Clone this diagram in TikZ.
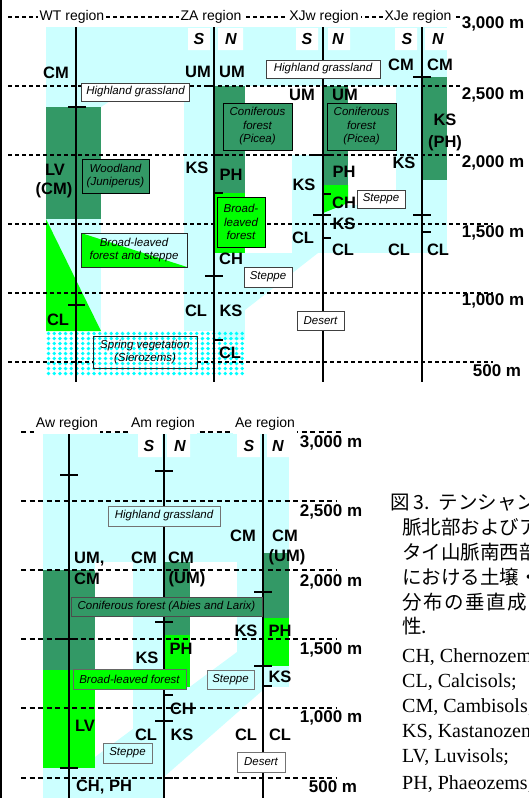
\documentclass[tikz,border=0pt]{standalone}
\usepackage{fontspec}
\setmainfont{Liberation Sans}
\newfontfamily\jpfont{Noto Sans CJK JP}
\newfontfamily\serfont{Liberation Serif}
\definecolor{cy}{HTML}{CCFFFF}
\definecolor{dg}{HTML}{339966}
\definecolor{bg}{HTML}{00FF00}
\definecolor{dt}{HTML}{00FFFF}
\begin{document}
\begin{tikzpicture}[x=1pt,y=-1pt,
  lbl/.style={font=\fontsize{16.5}{17}\selectfont\bfseries, inner sep=0pt},
  snl/.style={font=\fontsize{16}{17}\selectfont\bfseries\itshape, inner sep=0pt},
  hdr/.style={font=\fontsize{14}{15}\selectfont, fill=white, inner xsep=2pt, inner ysep=2pt},
  elev/.style={font=\fontsize{17}{18}\selectfont\bfseries, inner sep=0pt},
  vbox/.style={draw=black!75, line width=0.8pt, font=\fontsize{11.5}{13.5}\selectfont\itshape, align=center, inner sep=0pt},
  axln/.style={line width=2pt},
  tk/.style={line width=2pt},
  dsh/.style={line width=1.1pt, dash pattern=on 4pt off 3pt},
  dshb/.style={line width=1.5pt, dash pattern=on 5pt off 3.5pt},
  jpl/.style={font=\jpfont\fontsize{19.5}{20}\selectfont, inner sep=0pt, anchor=west},
  enl/.style={font=\serfont\fontsize{20}{21}\selectfont, inner sep=0pt, anchor=west}]
\useasboundingbox (0,0) rectangle (529,798);
\clip (0,0) rectangle (529,798);
\fill[white] (0,0) rectangle (529,798);
% ---------- top panel fills ----------
\fill[cy] (46,27) rectangle (447,86);
\fill[cy] (46,86) -- (133,86) -- (101,107) -- (46,107) -- cycle;
\fill[cy] (46,219) rectangle (101,331);
\fill[cy] (184,86) rectangle (214,331);
\fill[cy] (214,253) rectangle (245,340);
\fill[cy] (245,253) -- (318,253) -- (245,310) -- cycle;
\fill[cy] (292,155) rectangle (323,253);
\fill[cy] (323,205) rectangle (447,253);
\fill[cy] (396,86) rectangle (422,253);
\fill[cy] (422,180) rectangle (447,253);
\fill[dg] (46,107) rectangle (101,219);
\fill[bg] (46,219) -- (101,331) -- (46,331) -- cycle;
\fill[dg] (214,86) rectangle (245,193);
\fill[bg] (214,193) rectangle (245,253);
\fill[dg] (323,86) rectangle (348,185);
\fill[bg] (323,185) -- (348,185) -- (348,203) -- (323,213) -- cycle;
\fill[dg] (422,77) rectangle (447,180);
\fill[white] (188,28) rectangle (210,50) (218,28) rectangle (243,50)
  (296,28) rectangle (318,50) (328,28) rectangle (350,50)
  (395,28) rectangle (417,50) (425,28) rectangle (447,50);
% ---------- bottom panel fills ----------
\fill[cy] (43,433) rectangle (289,562);
\fill[cy] (43,562) rectangle (95,570);
\fill[cy] (133,562) rectangle (164,798);
\fill[cy] (237,562) rectangle (263,652);
\fill[cy] (263,666) rectangle (289,687);
\fill[cy] (237,652) -- (263,652) -- (263,690) -- (140,798) -- (43,798) -- (43,768) -- (95,768) -- (95,757) -- cycle;
\fill[cy] (164,687) rectangle (190,730);
\fill[dg] (43,570) rectangle (95,670);
\fill[dg] (164,562) rectangle (190,635);
\fill[dg] (263,553) rectangle (289,618);
\fill[bg] (43,670) rectangle (95,768);
\fill[bg] (164,635) rectangle (190,687);
\fill[bg] (263,618) rectangle (289,666);
\fill[white] (138,433) rectangle (162,457) (167,433) rectangle (190,457)
  (237,433) rectangle (260,457) (267,433) rectangle (289,457);
% ---------- dots ----------
\foreach \i in {0,...,34}{\foreach \j in {0,...,8}{\fill[dt] ({48.5+5.7*\i},{333.5+5*\j}) circle (1.9pt);}}
% ---------- dashed elevation lines ----------
\draw[dsh] (8,17) -- (460,17);
\draw[dsh] (8,86) -- (460,86);
\draw[dsh] (8,155) -- (460,155);
\draw[dsh] (8,224) -- (493,224);
\draw[dsh] (8,293) -- (493,293);
\draw[dsh] (8,362) -- (493,362);
\draw[dshb] (21,432) -- (342,432);
\draw[dshb] (21,501) -- (337,501);
\draw[dshb] (21,570) -- (337,570);
\draw[dshb] (21,639) -- (337,639);
\draw[dshb] (21,708) -- (337,708);
\draw[dshb] (21,778) -- (337,778);
% spring box background
\fill[white] (93,336) rectangle (197,368);
\begin{scope}
\clip (93,336) rectangle (197,368);
\foreach \i in {0,...,34}{\foreach \j in {0,...,8}{\fill[dt] ({48.5+5.7*\i},{333.5+5*\j}) circle (1.9pt);}}
\end{scope}
% ---------- axes ----------
\draw[axln] (76,27) -- (76,382);
\draw[axln] (214,27) -- (214,382);
\draw[axln] (323,27) -- (323,382);
\draw[axln] (422,27) -- (422,382);
\draw[axln] (69,433) -- (69,798);
\draw[axln] (164,433) -- (164,798);
\draw[axln] (263,433) -- (263,798);
% ---------- ticks ----------
\draw[tk] (68,107) -- (86,107);
\draw[tk] (68,305) -- (85,305);
\draw[tk] (205,86) -- (214,86);
\draw[tk] (214,155) -- (223,155);
\draw[tk] (214,193) -- (223,193);
\draw[tk] (205,276) -- (223,276);
\draw[tk] (214,340) -- (223,340);
\draw[tk] (313,155) -- (331,155);
\draw[tk] (323,194) -- (331,194);
\draw[tk] (313,215) -- (331,215);
\draw[tk] (323,238) -- (331,238);
\draw[tk] (413,77) -- (431,77);
\draw[tk] (413,215) -- (431,215);
\draw[tk] (422,232) -- (431,232);
\draw[tk] (60,475) -- (78,475);
\draw[tk] (60,639) -- (78,639);
\draw[tk] (60,768) -- (78,768);
\draw[tk] (155,471) -- (173,471);
\draw[tk] (155,622) -- (173,622);
\draw[tk] (155,721) -- (173,721);
\draw[tk] (164,695) -- (173,695);
\draw[tk] (164,778) -- (173,778);
\draw[tk] (254,592) -- (272,592);
\draw[tk] (254,666) -- (272,666);
\draw[tk] (263,686) -- (272,686);
% ---------- vegetation boxes (top) ----------
\node[vbox, fill=white, minimum width=108pt, minimum height=18pt] (hg1) at (135.5,92) {Highland grassland};
\node[vbox, fill=white, minimum width=114pt, minimum height=18pt] (hg2) at (323,69) {Highland grassland};
\node[vbox, fill=dg, draw=black, minimum width=69pt, minimum height=47pt] (con1) at (257.5,126.5) {Coniferous\\forest\\(Picea)};
\node[vbox, fill=dg, draw=black, minimum width=69pt, minimum height=47pt] (con2) at (361.5,126.5) {Coniferous\\forest\\(Picea)};
\node[vbox, fill=dg, draw=black, minimum width=67pt, minimum height=34pt] (wood) at (115.5,176) {Woodland\\(Juniperus)};
\node[vbox, fill=bg, draw=black, minimum width=48pt, minimum height=50pt] (blf1) at (241,222) {Broad-\\leaved\\forest};
\fill[cy] (81,233) rectangle (187,267);
\fill[bg] (81,233) -- (187,267) -- (81,267) -- cycle;
\node[vbox, draw=black!85, minimum width=106pt, minimum height=34pt] (blfs) at (134,250) {Broad-leaved\\forest and steppe};
\node[vbox, fill=white, minimum width=48pt, minimum height=20pt] (st1) at (268,277) {Steppe};
\node[vbox, fill=white, minimum width=48pt, minimum height=18pt] (st2) at (381,199) {Steppe};
\node[vbox, fill=white, minimum width=47pt, minimum height=19pt] (de1) at (320.5,320.5) {Desert};
\node[vbox, draw=black!85, minimum width=104pt, minimum height=32pt] (spr) at (145,352) {Spring vegetation\\(Sierozems)};
% ---------- vegetation boxes (bottom) ----------
\node[vbox, fill=cy, draw=black!55, minimum width=112pt, minimum height=20pt] (hg3) at (164,516) {Highland grassland};
\node[vbox, fill=dg, draw=black!70, minimum width=191pt, minimum height=19pt] (con3) at (166.5,606.5) {Coniferous forest (Abies and Larix)};
\node[vbox, fill=bg, draw=black!60, minimum width=113pt, minimum height=20pt] (blf2) at (129.5,679) {Broad-leaved forest};
\node[vbox, fill=cy, draw=black!55, minimum width=47pt, minimum height=19pt] (st3) at (230.5,679.5) {Steppe};
\node[vbox, fill=cy, draw=black!55, minimum width=49pt, minimum height=20pt] (st4) at (127.5,753) {Steppe};
\node[vbox, fill=white, draw=black!55, minimum width=48pt, minimum height=20pt] (de2) at (261,762) {Desert};
% ---------- headers ----------
\node[hdr] (hWT) at (72,17) {WT region};
\node[hdr] (hZA) at (211,17) {ZA region};
\node[hdr] (hXJw) at (324,17) {XJw region};
\node[hdr] (hXJe) at (418,17) {XJe region};
\node[hdr, minimum height=19pt] (hAw) at (67,424) {Aw region};
\node[hdr, minimum height=19pt] (hAm) at (163,424) {Am region};
\node[hdr, minimum height=19pt] (hAe) at (265,424) {Ae region};
% ---------- elevation labels ----------
\node[elev] (t3000) at (493,24) {3,000 m};
\node[elev] (t2500) at (493,95) {2,500 m};
\node[elev] (t2000) at (493,163) {2,000 m};
\node[elev] (t1500) at (493,233) {1,500 m};
\node[elev] (t1000) at (493,301) {1,000 m};
\node[elev] (t500) at (497,371) {500 m};
\node[elev] (b3000) at (331,443) {3,000 m};
\node[elev] (b2500) at (331,512) {2,500 m};
\node[elev] (b2000) at (331,582) {2,000 m};
\node[elev] (b1500) at (331,650) {1,500 m};
\node[elev] (b1000) at (331,718) {1,000 m};
\node[elev] (b500) at (333,787) {500 m};
% ---------- S / N ----------
\node[snl] (zaS) at (199,39) {S};
\node[snl] (zaN) at (231,39) {N};
\node[snl] (xwS) at (307,39) {S};
\node[snl] (xwN) at (338,39) {N};
\node[snl] (xeS) at (407,39) {S};
\node[snl] (xeN) at (438,39) {N};
\node[snl] (amS) at (149,446) {S};
\node[snl] (amN) at (180,446) {N};
\node[snl] (aeS) at (249,446) {S};
\node[snl] (aeN) at (278,446) {N};
% ---------- soil labels (top) ----------
\node[lbl] (wt1) at (56,73) {CM};
\node[lbl] (wt2) at (55,170) {LV};
\node[lbl] (wt3) at (54,190) {(CM)};
\node[lbl] (wt4) at (58,320) {CL};
\node[lbl] (za1) at (198,72) {UM};
\node[lbl] (za2) at (232,72) {UM};
\node[lbl] (za3) at (197,168) {KS};
\node[lbl] (za4) at (231,175) {PH};
\node[lbl] (za5) at (231,259) {CH};
\node[lbl] (za6) at (196,311) {CL};
\node[lbl] (za7) at (231,311) {KS};
\node[lbl] (za8) at (230,353) {CL};
\node[lbl] (xw1) at (302,95) {UM};
\node[lbl] (xw2) at (345,95) {UM};
\node[lbl] (xw3) at (304,185) {KS};
\node[lbl] (xw4) at (344,172) {PH};
\node[lbl] (xw5) at (344,203) {CH};
\node[lbl] (xw6) at (344,224) {KS};
\node[lbl] (xw7) at (303,238) {CL};
\node[lbl] (xw8) at (343,250) {CL};
\node[lbl] (xe1) at (401,65) {CM};
\node[lbl] (xe2) at (440,65) {CM};
\node[lbl] (xe3) at (445,120) {KS};
\node[lbl] (xe4) at (445,143) {(PH)};
\node[lbl] (xe5) at (404,163) {KS};
\node[lbl] (xe6) at (399,250) {CL};
\node[lbl] (xe7) at (438,250) {CL};
% ---------- soil labels (bottom) ----------
\node[lbl, anchor=west] (aw1) at (74,559) {UM,};
\node[lbl, anchor=west] (aw2) at (74,579) {CM};
\node[lbl] (aw3) at (85,726) {LV};
\node[lbl] (aw4) at (104,787) {CH, PH};
\node[lbl] (am1) at (144,558) {CM};
\node[lbl] (am2) at (181,558) {CM};
\node[lbl] (am3) at (187,579) {(UM)};
\node[lbl] (am4) at (147,658) {KS};
\node[lbl] (am5) at (181,649) {PH};
\node[lbl] (am6) at (182,709) {CH};
\node[lbl] (am7) at (146,735) {CL};
\node[lbl] (am8) at (182,735) {KS};
\node[lbl] (ae1) at (243,536) {CM};
\node[lbl] (ae2) at (285,536) {CM};
\node[lbl] (ae3) at (287,557) {(UM)};
\node[lbl] (ae4) at (246,631) {KS};
\node[lbl] (ae5) at (280,631) {PH};
\node[lbl] (ae6) at (280,677) {KS};
\node[lbl] (ae7) at (246,735) {CL};
\node[lbl] (ae8) at (280,735) {CL};
% ---------- frame line ----------
\draw[line width=2pt] (1,0) -- (1,798);
% ---------- caption ----------
\node[jpl] (c1) at (390,502) {図\hspace{4pt}3.\hspace{9pt}テンシャン山};
\node[jpl] (c2) at (402,527) {脈北部およびアル};
\node[jpl] (c3) at (402,552) {タイ山脈南西部に};
\node[jpl] (c4) at (402,577) {における土壌・植生};
\node[jpl] (c5) at (402,602) {分\hspace{1.5pt}布\hspace{1.5pt}の\hspace{1.5pt}垂\hspace{1.5pt}直\hspace{1.5pt}成\hspace{1.5pt}帯};
\node[jpl] (c6) at (402,626) {性.};
\node[enl] (c7) at (402,657) {CH, Chernozems;};
\node[enl] (c8) at (402,682) {CL, Calcisols;};
\node[enl] (c9) at (402,707) {CM, Cambisols;};
\node[enl] (c10) at (402,732) {KS, Kastanozems;};
\node[enl] (c11) at (402,757) {LV, Luvisols;};
\node[enl] (c12) at (402,784) {PH, Phaeozems;};
\end{tikzpicture}
\end{document}
